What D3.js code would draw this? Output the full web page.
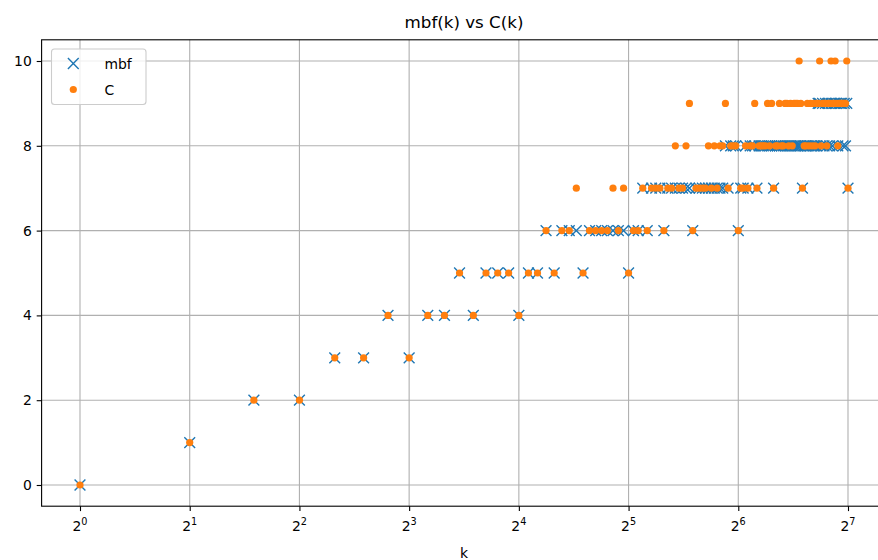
<!DOCTYPE html>
<html>
<head>
<meta charset="utf-8">
<script src="https://cdn.jsdelivr.net/npm/d3@7"></script>
<style>
  html, body { margin: 0; padding: 0; background: #ffffff; }
  svg { display: block; font-family: "DejaVu Sans", sans-serif; }
</style>
</head>
<body>
<svg id="chart" width="878" height="560"></svg>
<script>
// ---- data ----
const ks = [
  1,2,3,4,5,6,7,8,9,10,11,12,13,14,15,16,
  17,18,19,20,21,22,23,24,25,26,27,28,29,30,31,32,
  33,34,35,36,37,38,39,40,41,42,43,44,45,46,47,48,
  49,50,51,52,53,54,55,56,57,58,59,60,61,62,63,64,
  65,66,67,68,69,70,71,72,73,74,75,76,77,78,79,80,
  81,82,83,84,85,86,87,88,89,90,91,92,93,94,95,96,
  97,98,99,100,101,102,103,104,105,106,107,108,109,110,111,112,
  113,114,115,116,117,118,119,120,121,122,123,124,125,126,127,128
];
const mbfValues = [
  0,1,2,2,3,3,4,3,4,4,5,4,5,5,5,4,
  5,5,6,5,6,6,6,5,6,6,6,6,6,6,6,5,
  6,6,7,6,7,7,7,6,7,7,7,7,7,7,7,6,
  7,7,7,7,7,7,7,7,7,7,8,7,8,8,8,6,
  7,7,8,7,8,8,8,7,8,8,8,8,8,8,8,7,
  8,8,8,8,8,8,8,8,8,8,8,8,8,8,8,7,
  8,8,8,8,8,8,8,8,8,9,9,8,9,8,9,8,
  9,8,9,8,9,9,9,8,9,9,9,8,9,8,9,7
];
const cValues = [
  0,1,2,2,3,3,4,3,4,4,5,4,5,5,5,4,
  5,5,6,5,6,6,7,5,6,6,6,6,7,6,7,5,
  6,6,7,6,7,7,7,6,7,7,8,7,7,8,9,6,
  7,7,7,7,8,7,8,7,8,8,9,7,8,8,8,6,
  7,7,8,7,8,8,9,7,8,8,8,8,9,8,9,7,
  8,8,9,8,8,9,9,8,9,8,9,9,9,10,9,7,
  8,8,9,8,9,8,9,8,9,9,10,8,9,9,9,8,
  9,9,10,9,9,10,9,8,9,9,9,9,9,9,10,7
];
const xTickExps = [0,1,2,3,4,5,6,7];
const yTicks = [0,2,4,6,8,10];
const titleText = "mbf(k) vs C(k)";
const xLabelText = "k";
const seriesNames = ["mbf", "C"];

(function () {
  // ---- layout ----
  const padL = 41.6, padR = 886.4, padT = 39.8, padB = 506.2;
  const blue = "#1f77b4", orange = "#ff7f0e";

  const svg = d3.select("#chart");

  const x = d3.scaleLog().base(2)
    .domain([Math.pow(2, -0.35), Math.pow(2, 7.35)])
    .range([padL, padR]);
  const y = d3.scaleLinear().domain([-0.5, 10.5]).range([padB, padT]);

  svg.append("defs").append("clipPath").attr("id", "clip")
    .append("rect").attr("x", padL).attr("y", padT)
    .attr("width", padR - padL).attr("height", padB - padT);

  // grid
  const grid = svg.append("g").attr("stroke", "#b0b0b0").attr("stroke-width", 1.1);
  xTickExps.forEach(e => {
    const px = x(Math.pow(2, e));
    grid.append("line").attr("x1", px).attr("x2", px).attr("y1", padT).attr("y2", padB);
  });
  yTicks.forEach(v => {
    grid.append("line").attr("x1", padL).attr("x2", padR).attr("y1", y(v)).attr("y2", y(v));
  });

  // axes
  const xAxis = d3.axisBottom(x)
    .tickValues(xTickExps.map(e => Math.pow(2, e)))
    .tickSize(4.9).tickPadding(4).tickFormat(() => "");
  const gx = svg.append("g").attr("transform", `translate(0,${padB})`).call(xAxis);
  gx.select(".domain").remove();
  gx.selectAll(".tick line").attr("stroke", "#000").attr("stroke-width", 1.1);

  const xl = svg.append("g").attr("font-size", 13.9).attr("fill", "#000");
  xTickExps.forEach(e => {
    const px = x(Math.pow(2, e));
    const t = xl.append("text").attr("x", px).attr("y", 531).attr("text-anchor", "middle");
    t.append("tspan").text("2");
    t.append("tspan").attr("font-size", 9.7).attr("dy", -6).text(String(e));
  });

  const yAxis = d3.axisLeft(y).tickValues(yTicks).tickSize(4.9).tickPadding(4.9)
    .tickFormat(d3.format("d"));
  const gy = svg.append("g").attr("transform", `translate(${padL},0)`).call(yAxis);
  gy.select(".domain").remove();
  gy.selectAll(".tick line").attr("stroke", "#000").attr("stroke-width", 1.1);
  gy.selectAll(".tick text").attr("font-size", 13.9).attr("fill", "#000")
    .attr("font-family", "DejaVu Sans, sans-serif");

  // marks
  const plot = svg.append("g").attr("clip-path", "url(#clip)");
  const xs = 5.4;
  const mbfG = plot.append("g").attr("stroke", blue).attr("stroke-width", 1.4).attr("fill", "none");
  ks.forEach((k, i) => {
    const cx = x(k), cy = y(mbfValues[i]);
    mbfG.append("path")
      .attr("d", `M${cx - xs},${cy - xs}L${cx + xs},${cy + xs}M${cx - xs},${cy + xs}L${cx + xs},${cy - xs}`);
  });
  const cG = plot.append("g").attr("fill", orange);
  ks.forEach((k, i) => {
    cG.append("circle").attr("cx", x(k)).attr("cy", y(cValues[i])).attr("r", 3.6);
  });

  // spines
  svg.append("rect").attr("x", padL).attr("y", padT)
    .attr("width", padR - padL).attr("height", padB - padT)
    .attr("fill", "none").attr("stroke", "#000").attr("stroke-width", 1.1);

  // title and labels
  svg.append("text").attr("x", (padL + padR) / 2).attr("y", 28)
    .attr("text-anchor", "middle").attr("font-size", 16.7).attr("fill", "#000").text(titleText);
  svg.append("text").attr("x", (padL + padR) / 2).attr("y", 558)
    .attr("text-anchor", "middle").attr("font-size", 13.9).attr("fill", "#000").text(xLabelText);

  // legend
  const lg = svg.append("g");
  lg.append("rect").attr("x", 51.5).attr("y", 49).attr("width", 94.5).attr("height", 55.5)
    .attr("rx", 3).attr("fill", "#fff").attr("fill-opacity", 0.8)
    .attr("stroke", "#cccccc").attr("stroke-width", 1.1);
  const lx = 73.3, ly1 = 63.5, ly2 = 89.5;
  lg.append("path").attr("d", `M${lx - xs},${ly1 - xs}L${lx + xs},${ly1 + xs}M${lx - xs},${ly1 + xs}L${lx + xs},${ly1 - xs}`)
    .attr("stroke", blue).attr("stroke-width", 1.4).attr("fill", "none");
  lg.append("circle").attr("cx", lx).attr("cy", ly2).attr("r", 3.6).attr("fill", orange);
  lg.append("text").attr("x", 104.5).attr("y", ly1 + 5).attr("font-size", 13.9).attr("fill", "#000").text(seriesNames[0]);
  lg.append("text").attr("x", 104.5).attr("y", ly2 + 5).attr("font-size", 13.9).attr("fill", "#000").text(seriesNames[1]);
})();
</script>
</body>
</html>
